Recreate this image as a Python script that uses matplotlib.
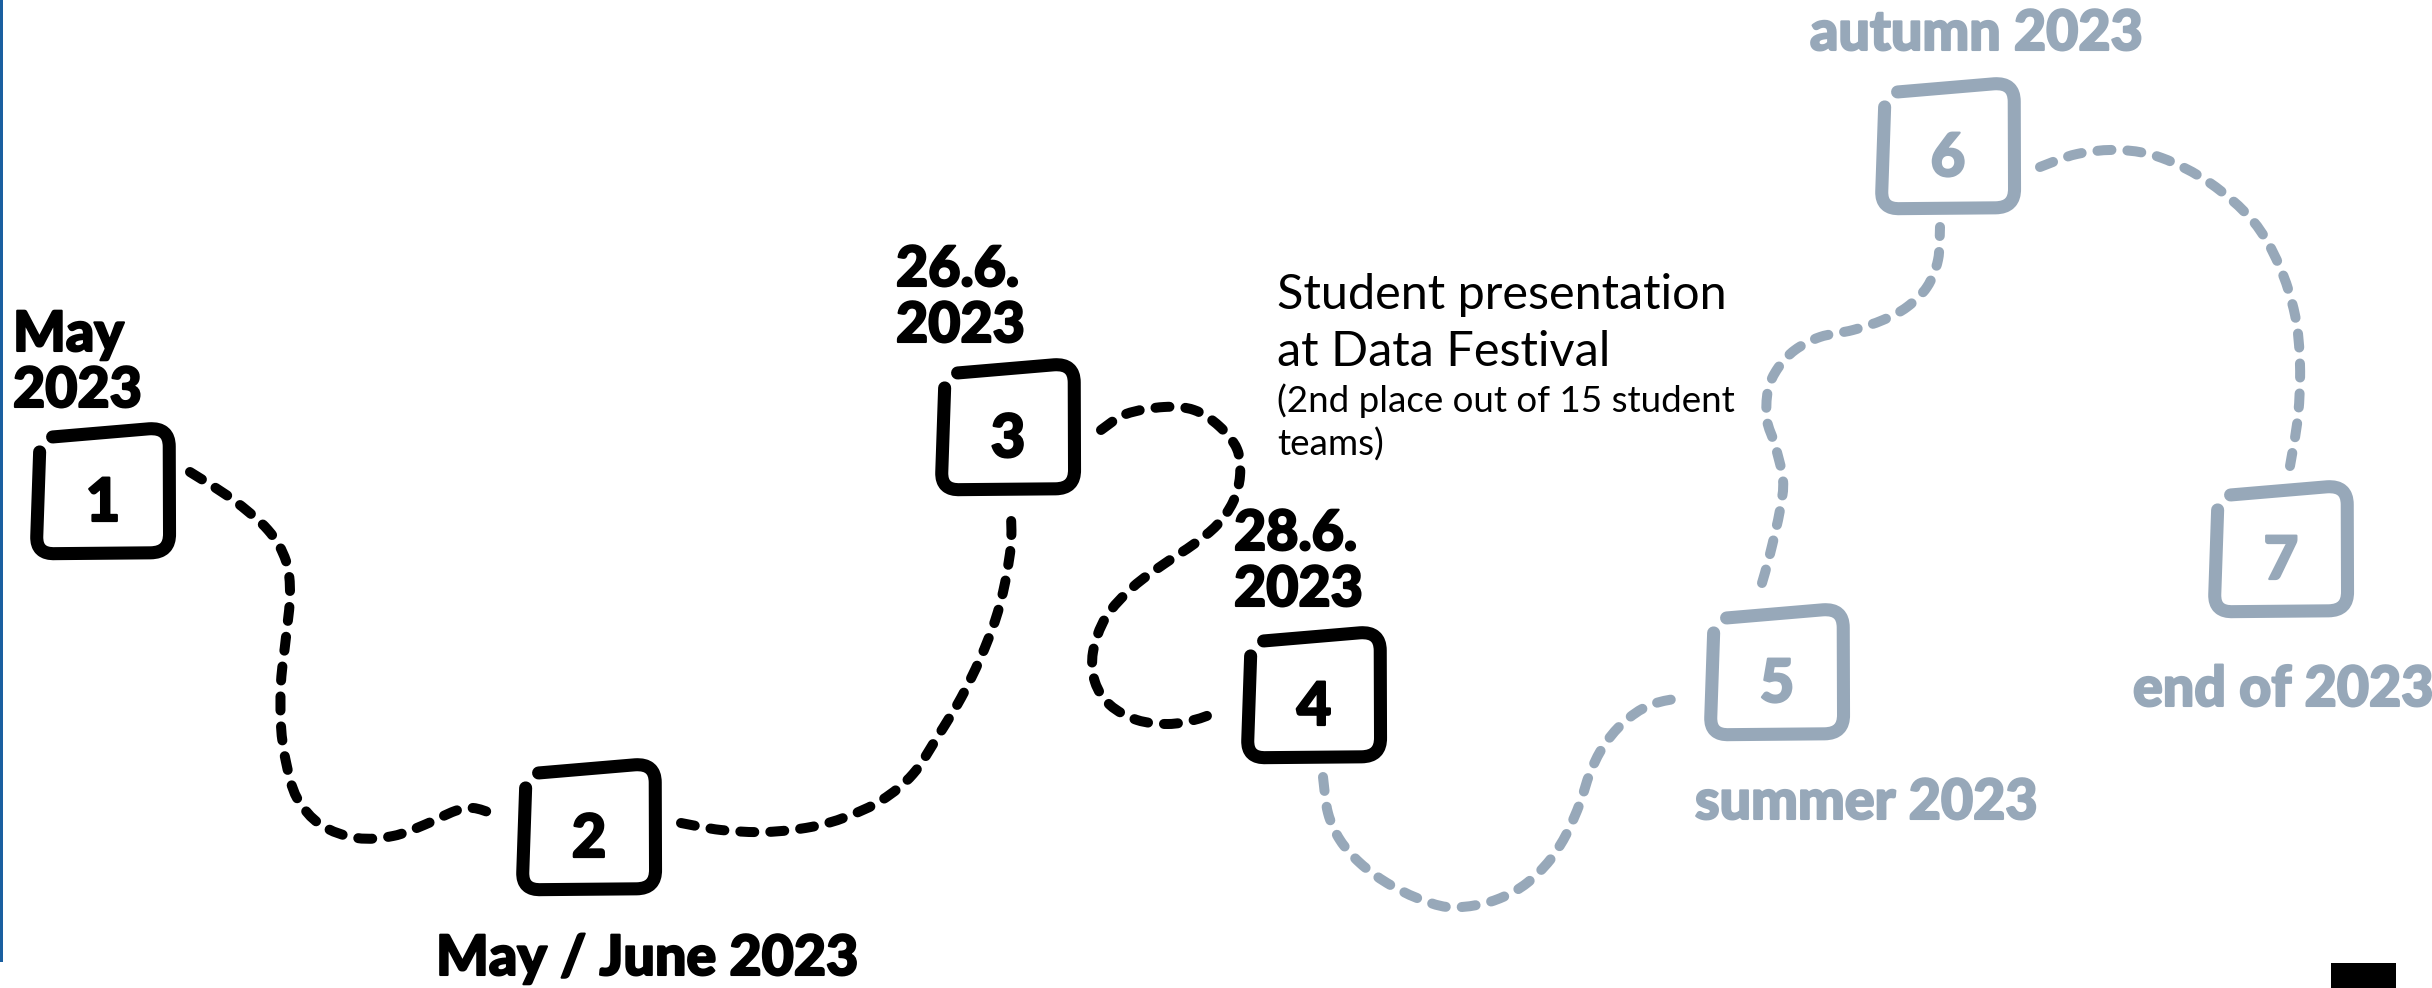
import numpy as np
import matplotlib.pyplot as plt
import matplotlib.patheffects as pe
from matplotlib.path import Path
from matplotlib.patches import PathPatch, Rectangle

W, H = 2432, 988
DARK = '#000000'
GREY = '#97a8b9'

# milestones (box centres in picture pixels)
node_num = ['1', '2', '3', '4', '5', '6', '7']
node_x = [103, 589, 1008, 1314, 1777, 1948, 2281]
node_y = [490, 826, 426, 694, 671, 145, 548]
node_done = [True, True, True, True, False, False, False]

# date labels: left edge and first baseline
date_text = ['May\n2023', 'May / June 2023', '26.6.\n2023', '28.6.\n2023',
             'summer 2023', 'autumn 2023', 'end of 2023']
date_x = [13, 436, 896, 1234, 1695, 1810, 2133]
date_y = [351, 975, 286, 550, 819, 50, 706]

note_title = 'Student presentation\nat Data Festival'
note_sub = '(2nd place out of 15 student\nteams)'

# waypoints of the dashed connectors
link_12 = [(190, 472), (232, 499), (268, 530), (286, 561), (290, 595), (286, 637),
           (281, 682), (281, 726), (286, 762), (297, 798), (321, 825), (357, 838),
           (393, 836), (424, 825), (455, 811), (473, 808), (491, 813)]
link_23 = [(681, 823), (721, 830), (766, 832), (811, 827), (846, 817), (882, 800),
           (913, 774), (938, 736), (961, 698), (980, 659), (995, 621), (1005, 583),
           (1011, 544), (1011, 514)]
link_34 = [(1101, 430), (1126, 414), (1164, 407), (1194, 410), (1219, 426), (1237, 449),
           (1240, 476), (1233, 502), (1217, 525), (1194, 544), (1164, 564), (1133, 587),
           (1106, 617), (1093, 652), (1095, 682), (1110, 705), (1137, 720), (1168, 724),
           (1194, 720), (1215, 713)]
link_45 = [(1323, 777), (1328, 813), (1340, 840), (1360, 863), (1387, 883), (1417, 898),
           (1447, 907), (1477, 905), (1503, 897), (1527, 883), (1550, 860), (1567, 833),
           (1580, 803), (1590, 773), (1603, 747), (1623, 723), (1650, 705), (1685, 697)]
link_56 = [(1762, 583), (1770, 554), (1780, 510), (1783, 480), (1775, 445), (1767, 420),
           (1768, 390), (1778, 368), (1795, 350), (1820, 337), (1853, 330), (1883, 320),
           (1907, 307), (1927, 287), (1938, 260), (1940, 227)]
link_67 = [(2040, 167), (2077, 154), (2120, 150), (2162, 158), (2210, 183), (2253, 221),
           (2279, 265), (2295, 315), (2300, 365), (2298, 416), (2290, 466)]
links = [link_12, link_23, link_34, link_45, link_56, link_67]
link_done = [True, True, True, False, False, False]

# hand drawn box outline, fractions of the box (y down)
BW, BH = 144, 136
box_pts = [(0.15, 0.11), (0.82, 0.05), (0.96, 0.04), (0.96, 0.18), (0.962, 0.82),
           (0.965, 0.96), (0.83, 0.962), (0.17, 0.968), (0.035, 0.975), (0.04, 0.84),
           (0.06, 0.22)]
box_codes = [Path.MOVETO, Path.LINETO, Path.CURVE3, Path.CURVE3, Path.LINETO,
             Path.CURVE3, Path.CURVE3, Path.LINETO, Path.CURVE3, Path.CURVE3, Path.LINETO]


def smooth(pts):
    p = np.array(pts, float)
    verts, codes = [p[0]], [Path.MOVETO]
    n = len(p)
    for i in range(n - 1):
        p0 = p[i - 1] if i > 0 else p[i]
        p1, p2 = p[i], p[i + 1]
        p3 = p[i + 2] if i + 2 < n else p[i + 1]
        verts += [p1 + (p2 - p0) / 6, p2 - (p3 - p1) / 6, p2]
        codes += [Path.CURVE4] * 3
    return Path(verts, codes)


fig = plt.figure(figsize=(W / 100, H / 100), dpi=100)
ax = fig.add_axes([0, 0, 1, 1])
ax.set_xlim(0, W)
ax.set_ylim(H, 0)
ax.axis('off')

for pts, done in zip(links, link_done):
    poly = smooth(pts).to_polygons(closed_only=False)[0]
    ax.plot(poly[:, 0], poly[:, 1], lw=7.2, color=DARK if done else GREY,
            dashes=(1.4, 1.6), dash_capstyle='round')

for num, x, y, done in zip(node_num, node_x, node_y, node_done):
    c = DARK if done else GREY
    verts = [(x - BW / 2 + fx * BW, y - BH / 2 + fy * BH) for fx, fy in box_pts]
    ax.add_patch(PathPatch(Path(verts, box_codes), fill=False, lw=9.4, color=c,
                           capstyle='round', joinstyle='round'))
    ax.text(x, y + 31, num, ha='center', va='baseline', fontsize=43,
            fontfamily='Lato', fontweight='black', color=c,
            path_effects=[pe.withStroke(linewidth=1.6, foreground=c)])

for t, x, y, done in zip(date_text, date_x, date_y, node_done):
    c = DARK if done else GREY
    for k, line in enumerate(t.split('\n')):
        ax.text(x, y + k * 56, line, ha='left', va='baseline', fontsize=40,
                fontfamily='Lato', fontweight='black', color=c,
                path_effects=[pe.withStroke(linewidth=1.5, foreground=c)])

for k, line in enumerate(note_title.split('\n')):
    ax.text(1277, 309 + k * 57, line, ha='left', va='baseline', fontsize=35,
            fontfamily='Lato', color=DARK)
for k, line in enumerate(note_sub.split('\n')):
    ax.text(1277, 412 + k * 44, line, ha='left', va='baseline', fontsize=26.5,
            fontfamily='Lato', color=DARK)

# frame bits at the edges
ax.add_patch(Rectangle((0, 0), 3, 962, color='#1a5fa0', lw=0))
ax.add_patch(Rectangle((2331, 963), 65, 25, color='#000000', lw=0))

fig.savefig('out.png', dpi=100)
